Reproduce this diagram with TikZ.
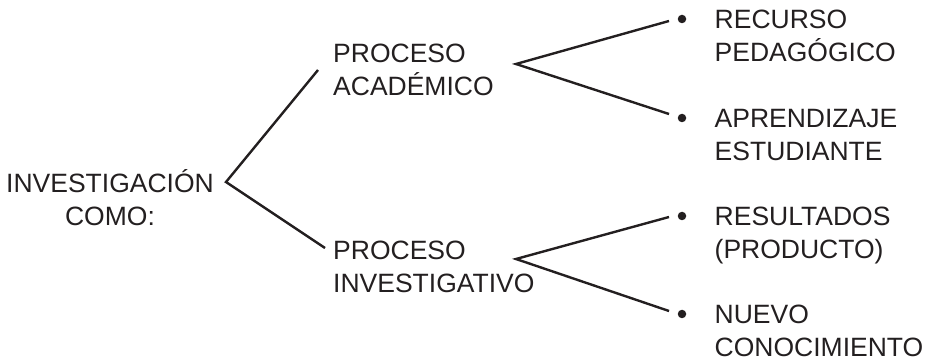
\documentclass[tikz,border=0pt]{standalone}
\usepackage{fontspec}
\setmainfont{Liberation Sans}
\definecolor{ink}{HTML}{231F20}
\begin{document}
\begin{tikzpicture}[x=1pt,y=-1pt,
  lbl/.style={font=\fontsize{26.5}{33}\selectfont, text=ink, inner sep=0pt, align=left, anchor=base west},
  conn/.style={draw=ink, line width=2.4pt},
  dot/.style={circle, fill=ink, inner sep=0pt, minimum size=8.5pt}]
\useasboundingbox (0,0) rectangle (932,363);
% texts (base anchor = baseline of last line)
\node[lbl, align=center, anchor=base] (inv) at (110,226) {INVESTIGACIÓN\\COMO:};
\node[lbl] (acad) at (333,95.3) {PROCESO\\ACADÉMICO};
\node[lbl] (invest) at (333,292.7) {PROCESO\\INVESTIGATIVO};
\node[lbl] (rec) at (714.5,61.7) {RECURSO\\PEDAGÓGICO};
\node[lbl] (apr) at (714.5,160.5) {APRENDIZAJE\\ESTUDIANTE};
\node[lbl] (res) at (714.5,259) {RESULTADOS\\(PRODUCTO)};
\node[lbl] (nue) at (714.5,356.5) {NUEVO\\CONOCIMIENTO};
% bullets
\node[dot] (b1) at (682,19) {};
\node[dot] (b2) at (682,118) {};
\node[dot] (b3) at (682,216) {};
\node[dot] (b4) at (682,314) {};
% fork points
\coordinate (f0) at (226,182);
\coordinate (f0a) at (318,70);
\coordinate (f0b) at (325,248);
\coordinate (f1) at (516,64);
\coordinate (f1a) at (669,21);
\coordinate (f1b) at (669,114);
\coordinate (f2) at (516,259);
\coordinate (f2a) at (669,217);
\coordinate (f2b) at (669,311);
% connectors
\draw[conn] (f0a) -- (f0) -- (f0b);
\draw[conn] (f1a) -- (f1) -- (f1b);
\draw[conn] (f2a) -- (f2) -- (f2b);
\end{tikzpicture}
\end{document}
